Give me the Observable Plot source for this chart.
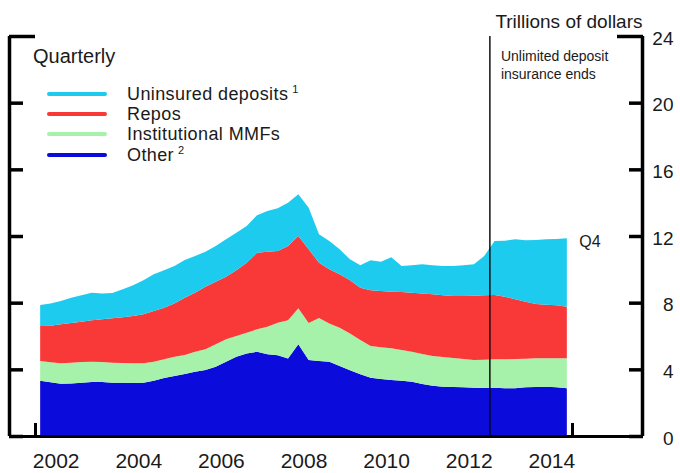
<!DOCTYPE html>
<html>
<head>
<meta charset="utf-8">
<script src="https://cdn.jsdelivr.net/npm/d3@7"></script>
<script src="https://cdn.jsdelivr.net/npm/@observablehq/plot@0.6"></script>
<style>
  body { margin: 0; background: #fff; }
  #chart { position: relative; width: 680px; height: 473px; font-family: "Liberation Sans", Arial, sans-serif; color: #1a1a1a; }
  #chart svg { position: absolute; left: 0; top: 0; }
  .lg { position: absolute; white-space: nowrap; font-size: 18px; line-height: 19px; height: 19px; letter-spacing: 0.4px; }
</style>
</head>
<body>
<div id="chart"></div>
<script>
// ---- data ----
const years = [2002, 2003, 2004, 2005, 2006, 2007, 2008, 2009, 2010, 2011, 2012, 2013, 2014];
const yearLabels = [2002, 2004, 2006, 2008, 2010, 2012, 2014];
const quarterNames = ["Q1", "Q2", "Q3", "Q4"];
const seriesNames = ["Uninsured deposits", "Repos", "Institutional MMFs", "Other"];
const seriesNotes = ["1", "", "", "2"];
const seriesColors = ["#1ccbee", "#f93838", "#a6f2aa", "#0b0bdc"];

// Trillions of dollars, quarterly 2002Q1 .. 2014Q4
const uninsured = [1.26,1.33,1.40,1.52,1.60,1.65,1.55,1.52,1.68,1.85,
                   2.05,2.20,2.25,2.25,2.26,2.20,2.11,2.15,2.25,2.25,
                   2.20,2.25,2.45,2.56,2.60,2.50,2.50,1.70,1.70,1.50,
                   1.25,1.35,1.80,1.75,2.06,1.56,1.65,1.75,1.75,1.75,
                   1.80,1.85,1.88,2.36,3.24,3.37,3.60,3.70,3.84,3.92,
                   3.98,4.10];
const repos = [2.10,2.20,2.34,2.38,2.41,2.49,2.56,2.66,2.74,2.84,
               2.94,3.05,3.10,3.20,3.44,3.55,3.75,3.75,3.75,3.95,
               4.20,4.60,4.50,4.30,4.45,4.34,4.42,3.32,3.25,3.20,
               3.20,3.14,3.35,3.38,3.40,3.48,3.54,3.63,3.70,3.71,
               3.72,3.78,3.86,3.86,3.86,3.75,3.58,3.41,3.26,3.22,
               3.18,3.10];
const mmfs = [1.18,1.20,1.22,1.25,1.24,1.22,1.20,1.20,1.18,1.18,
              1.16,1.13,1.12,1.15,1.14,1.20,1.24,1.35,1.35,1.25,
              1.25,1.35,1.65,1.95,2.30,2.16,2.22,2.58,2.30,2.30,
              2.20,2.06,1.90,1.90,1.90,1.84,1.80,1.80,1.78,1.78,
              1.74,1.70,1.66,1.70,1.70,1.74,1.76,1.72,1.72,1.70,
              1.74,1.80];
const other = [3.32,3.22,3.14,3.15,3.20,3.24,3.24,3.20,3.20,3.18,
               3.20,3.32,3.48,3.60,3.72,3.85,3.96,4.15,4.45,4.75,
               4.95,5.05,4.90,4.85,4.65,5.50,4.56,4.50,4.45,4.20,
               3.95,3.70,3.50,3.42,3.36,3.32,3.26,3.12,3.02,2.96,
               2.94,2.92,2.90,2.88,2.90,2.86,2.86,2.92,2.94,2.96,
               2.92,2.86];
const yTicks = [0, 4, 8, 12, 16, 20, 24];
const axisEnds = [2002, 2015];
const policyDate = 2013;  // end of unlimited deposit insurance (Dec 31, 2012)

// ---- build table ----
const quarters = [];
years.forEach(y => quarterNames.forEach((q, k) => quarters.push({year: y, q, t: y + (k + 0.5) / 4})));
const seriesValues = {"Uninsured deposits": uninsured, "Repos": repos, "Institutional MMFs": mmfs, "Other": other};
const rows = [];
for (const name of seriesNames.slice().reverse()) {
  quarters.forEach((qq, i) => rows.push({t: qq.t, series: name, value: seriesValues[name][i]}));
}
const totals = quarters.map((qq, i) => ({t: qq.t, total: uninsured[i] + repos[i] + mmfs[i] + other[i]}));
const last = totals[totals.length - 1];

const xDomain = [2001.3706, 2016.6946];
const ink = "#1a1a1a";

const plot = Plot.plot({
  width: 680,
  height: 473,
  marginLeft: 9,
  marginRight: 38,
  marginTop: 36,
  marginBottom: 37,
  style: {fontFamily: '"Liberation Sans", Arial, sans-serif', color: ink, background: "transparent", overflow: "visible"},
  x: {type: "linear", domain: xDomain},
  y: {domain: [0, 24]},
  color: {domain: seriesNames, range: seriesColors},
  marks: [
    Plot.areaY(rows, {x: "t", y: "value", fill: "series", z: "series",
      order: seriesNames.slice().reverse(), curve: "linear"}),
    Plot.ruleX([policyDate], {stroke: "#000", strokeWidth: 1.4}),
    Plot.text(["Unlimited deposit\ninsurance ends"], {x: policyDate, frameAnchor: "top", textAnchor: "start",
      lineAnchor: "top", dx: 11, dy: 12, fontSize: 14, lineHeight: 1.29, fill: ink}),
    Plot.text([last], {x: "t", y: "total", text: () => "Q4", textAnchor: "start", dx: 12, dy: 3, fontSize: 16, fill: ink}),
    // frame lines
    Plot.ruleY([0], {stroke: "#000", strokeWidth: 3}),
    Plot.ruleX(xDomain, {stroke: "#000", strokeWidth: 3.5}),
    // inward ticks
    Plot.axisY({anchor: "left", ticks: yTicks.slice(0, -1), tickSize: -14, strokeWidth: 3.5, tickFormat: () => "", label: null, stroke: "#000"}),
    Plot.axisY({anchor: "left", ticks: yTicks.slice(-1), tickSize: -26, strokeWidth: 3.5, tickFormat: () => "", label: null, stroke: "#000"}),
    Plot.axisY({anchor: "right", ticks: yTicks.slice(0, -1), tickSize: -14, strokeWidth: 3.5, tickFormat: () => "", label: null, stroke: "#000"}),
    Plot.axisY({anchor: "right", ticks: yTicks.slice(-1), tickSize: -26, strokeWidth: 3.5, tickFormat: () => "", label: null, stroke: "#000"}),
    Plot.axisY({anchor: "right", ticks: yTicks, tickSize: 0, tickPadding: 31, textAnchor: "end", fontSize: 19, dy: 2, label: null, fill: ink}),
    Plot.axisX({anchor: "bottom", ticks: axisEnds, tickSize: -13, strokeWidth: 3, tickFormat: () => "", label: null, stroke: "#000"}),
    Plot.axisX({anchor: "bottom", ticks: yearLabels.map(y => y + 0.5), tickFormat: d => String(Math.floor(d)),
      tickSize: 0, tickPadding: 17, fontSize: 21, label: null, fill: ink}),
    Plot.text(["Trillions of dollars"], {frameAnchor: "top-right", textAnchor: "end", dy: -22, fontSize: 19, fill: ink})
  ]
});

const chart = document.getElementById("chart");
chart.appendChild(plot);

// legend (HTML overlay)
const q = document.createElement("div");
q.className = "lg";
q.style.left = "33px";
q.style.top = "46px";
q.style.fontSize = "20px";
q.style.letterSpacing = "0";
q.style.lineHeight = "20px";
q.style.height = "20px";
q.textContent = "Quarterly";
chart.appendChild(q);

seriesNames.forEach((name, i) => {
  const row = document.createElement("div");
  row.style.cssText = `position:absolute;left:47px;top:${85 + i * 20.2}px;width:300px;height:19px;`;
  const sw = document.createElement("div");
  sw.style.cssText = `position:absolute;left:0;top:7px;width:60px;height:4px;background:${seriesColors[i]};border-radius:2px;`;
  row.appendChild(sw);
  const tx = document.createElement("div");
  tx.className = "lg";
  tx.style.left = "80px";
  tx.style.top = "0";
  tx.textContent = name;
  if (seriesNotes[i]) {
    const sup = document.createElement("span");
    sup.style.cssText = "font-size:11px;vertical-align:7px;margin-left:4px;line-height:0;";
    sup.textContent = seriesNotes[i];
    tx.appendChild(sup);
  }
  row.appendChild(tx);
  chart.appendChild(row);
});
</script>
</body>
</html>
